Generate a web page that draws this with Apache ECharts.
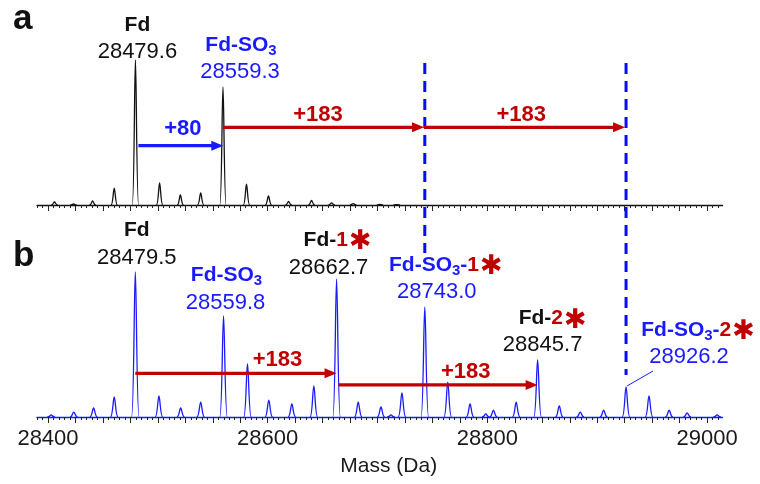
<!DOCTYPE html>
<html>
<head>
<meta charset="utf-8">
<script src="https://cdn.jsdelivr.net/npm/echarts@6/dist/echarts.min.js"></script>
<style>html,body{margin:0;padding:0;background:#fff;}</style>
</head>
<body>
<div id="spectrum" style="width:760px;height:484px;"></div>
<script>
// deconvoluted spectra, intensity relative to the Fd peak (= 100)
const massTicks = [28400, 28600, 28800, 29000];

// a: untreated
const massA = [28405.9, 28423.2, 28440.6, 28460.3, 28479.6, 28501.6, 28520.5, 28539.0, 28559.3,
  28580.7, 28600.7, 28619.0, 28639.9, 28658.2, 28677.8, 28702.2, 28717.4];
const intensityA = [2.1, 0.7, 2.8, 11.7, 100, 15.2, 6.9, 8.3, 81.4,
  14.3, 6.2, 2.4, 3.1, 1.4, 1.0, 0.4, 0.3];

// b: labelled
const massB = [28402.9, 28423.5, 28441.5, 28460.3, 28479.5, 28501.0, 28520.8, 28539.0, 28559.8,
  28581.6, 28601.0, 28622.0, 28642.0, 28662.7, 28682.4, 28703.1, 28712.2, 28722.2, 28743.0,
  28763.9, 28784.2, 28798.5, 28805.5, 28826.2, 28845.7, 28865.4, 28884.5, 28905.8, 28926.2,
  28947.1, 28965.4, 28981.8, 29009.1];
const intensityB = [1.4, 3.4, 6.2, 13.8, 100, 14.5, 6.2, 10.3, 69.7,
  36.6, 11.7, 9.0, 21.4, 95.2, 10.3, 6.9, 1.4, 16.6, 75.9,
  24.1, 9.0, 2.1, 4.8, 10.3, 39.3, 7.6, 3.4, 4.8, 20.7,
  14.5, 4.8, 2.8, 1.4];

const shiftSO3 = 80;
const shiftLabel = 183;

const FONT = '"Liberation Sans", Arial, sans-serif';
const BLUE = '#1a1aff';
const RED = '#c00000';

const majorTicks = [];
for (let m = 28400; m <= 29014; m += 25) majorTicks.push(m);
const minorTicks = [];
for (let m = 28390; m <= 29014; m += 5) minorTicks.push(m);

// each peak drawn as a narrow rounded profile around its centroid
function peakShape(halfWidth) {
  return function (params, api) {
    const b = api.coord([api.value(0), 0]);
    const t = api.coord([api.value(0), api.value(1)]);
    const w = halfWidth;
    const x = b[0];
    return {
      type: 'path',
      shape: {
        pathData: 'M' + (x - w) + ' ' + b[1] +
          ' C' + (x - 0.35 * w) + ' ' + b[1] + ' ' + (x - 0.3 * w) + ' ' + t[1] + ' ' + x + ' ' + t[1] +
          ' C' + (x + 0.3 * w) + ' ' + t[1] + ' ' + (x + 0.35 * w) + ' ' + b[1] + ' ' + (x + w) + ' ' + b[1]
      },
      style: { fill: 'none', stroke: api.visual('color'), lineWidth: 1.3 }
    };
  };
}

function axisPair(grid, lineColor, withLabels) {
  const major = {
    type: 'value', gridIndex: grid, min: 28390, max: 29014, position: 'bottom',
    splitLine: { show: false },
    axisLine: { show: true, lineStyle: { color: lineColor, width: 1.3 } },
    axisTick: { show: true, customValues: majorTicks, length: 6, lineStyle: { color: '#222', width: 1 } },
    axisLabel: withLabels
      ? { show: true, customValues: massTicks, formatter: v => String(v), fontFamily: FONT, fontSize: 22, color: '#1a1a1a', margin: 11 }
      : { show: false }
  };
  if (withLabels) {
    major.name = 'Mass (Da)';
    major.nameLocation = 'middle';
    major.nameGap = 39;
    major.nameTextStyle = { fontFamily: FONT, fontSize: 21, color: '#1a1a1a', padding: [0, 0, 0, 18] };
  }
  const minor = {
    type: 'value', gridIndex: grid, min: 28390, max: 29014, position: 'bottom',
    splitLine: { show: false },
    axisLine: { show: false },
    axisTick: { show: true, customValues: minorTicks, length: 3, lineStyle: { color: '#222', width: 1 } },
    axisLabel: { show: false }
  };
  return [major, minor];
}

const chart = echarts.init(document.getElementById('spectrum'));
chart.setOption({
  animation: false,
  grid: [
    { left: 37, right: 37.5, top: 60, height: 145 },
    { left: 37, right: 37.5, top: 272, height: 145 }
  ],
  xAxis: axisPair(0, '#111', false).concat(axisPair(1, BLUE, true)),
  yAxis: [
    { gridIndex: 0, min: 0, max: 100, show: false },
    { gridIndex: 1, min: 0, max: 100, show: false }
  ],
  series: [
    {
      type: 'custom', xAxisIndex: 0, yAxisIndex: 0, clip: false, silent: true, z: 3,
      itemStyle: { color: '#111' },
      renderItem: peakShape(3.2),
      data: massA.map((m, i) => [m, intensityA[i]])
    },
    {
      type: 'custom', xAxisIndex: 2, yAxisIndex: 1, clip: false, silent: true, z: 3,
      itemStyle: { color: BLUE },
      renderItem: peakShape(3.8),
      data: massB.map((m, i) => [m, intensityB[i]])
    }
  ]
});

// ---- annotations, anchored to the peaks through the axes ----
const px = (g, m, v) => chart.convertToPixel({ gridIndex: g }, [m, v]);

const rich = {
  k: { fontFamily: FONT, fontSize: 21, fontWeight: 'bold', fill: '#111', lineHeight: 28 },
  bl: { fontFamily: FONT, fontSize: 21, fontWeight: 'bold', fill: BLUE, lineHeight: 28 },
  sb: { fontFamily: FONT, fontSize: 15, fontWeight: 'bold', fill: BLUE, lineHeight: 15, padding: [12, 0, 0, 0] },
  r: { fontFamily: FONT, fontSize: 21, fontWeight: 'bold', fill: RED, lineHeight: 28 },
  st: { fontFamily: '"DejaVu Sans", sans-serif', fontSize: 27, fontWeight: 'bold', fill: RED, lineHeight: 27, padding: [4, 0, 0, 1] }
};

function text(x, baseline, str, opts) {
  const fs = opts.fontSize || 21;
  return {
    type: 'text', z: 10,
    style: {
      x: x, y: baseline - 0.31 * fs, text: str,
      align: opts.align || 'center', verticalAlign: 'middle',
      fontFamily: FONT, fontSize: fs, fontWeight: opts.bold ? 'bold' : 'normal',
      fill: opts.color || '#111', rich: opts.rich
    }
  };
}

// [grid, peak mass, title, dx, baseline, value colour, dx, baseline]
const peakLabels = [
  [0, 28479.6, '{k|Fd}', 2, 31.7, '#111', 2, 58.3],
  [0, 28559.3, '{bl|Fd-SO}{sb|3}', 18, 51.7, BLUE, 17, 79],
  [1, 28479.5, '{k|Fd}', 1.5, 236.7, '#111', 1.5, 265],
  [1, 28559.8, '{bl|Fd-SO}{sb|3}', 3, 281.7, BLUE, 2, 310],
  [1, 28662.7, '{k|Fd-}{r|1}{st|✱}', 1, 246.7, '#111', -8, 275],
  [1, 28743.0, '{bl|Fd-SO}{sb|3}{bl|-}{r|1}{st|✱}', 21, 271.7, BLUE, 12, 299],
  [1, 28845.7, '{k|Fd-}{r|2}{st|✱}', 15, 325, '#111', 5, 351.7],
  [1, 28926.2, '{bl|Fd-SO}{sb|3}{bl|-}{r|2}{st|✱}', 72, 336.7, BLUE, 63, 364]
];

const g = [];
g.push(text(13, 30, 'a', { fontSize: 35, bold: true, align: 'left' }));
g.push(text(13, 266.7, 'b', { fontSize: 35, bold: true, align: 'left' }));

peakLabels.forEach(function (l) {
  const x = px(l[0], l[1], 0)[0];
  g.push(text(x + l[3], l[4], l[2], { rich: rich }));
  g.push(text(x + l[6], l[7], l[1].toFixed(1), { color: l[5], fontSize: 22 }));
});

function arrow(grid, m1, m2, level, color, pad) {
  const p1 = px(grid, m1, level);
  const p2 = px(grid, m2, level);
  const y = p1[1];
  const x1 = p1[0] + pad;
  const x2 = p2[0];
  g.push({ type: 'line', z: 8, shape: { x1: x1, y1: y, x2: x2 - 8, y2: y }, style: { stroke: color, lineWidth: 3.2 } });
  g.push({ type: 'polygon', z: 8, shape: { points: [[x2, y], [x2 - 12, y - 5], [x2 - 12, y + 5]] }, style: { fill: color } });
}

arrow(0, 28479.6, 28479.6 + shiftSO3, 40.9, BLUE, 3);
arrow(0, 28559.3, 28559.3 + shiftLabel, 53.6, RED, 0);
arrow(0, 28559.3 + shiftLabel, 28559.3 + 2 * shiftLabel, 53.6, RED, 0);
arrow(1, 28479.5, 28662.7, 30.1, RED, 0);
arrow(1, 28662.7, 28845.7, 22.1, RED, 2);

g.push(text(182.8, 136, '+' + shiftSO3, { color: BLUE, bold: true, fontSize: 22 }));
g.push(text(318, 121.7, '+' + shiftLabel, { color: RED, bold: true, fontSize: 22 }));
g.push(text(521.3, 121.7, '+' + shiftLabel, { color: RED, bold: true, fontSize: 22 }));
g.push(text(277.5, 366.7, '+' + shiftLabel, { color: RED, bold: true, fontSize: 22 }));
g.push(text(465.8, 378.3, '+' + shiftLabel, { color: RED, bold: true, fontSize: 22 }));

// dashed guides at the two labelled sulfonated species
[[28743.0, 113.1], [28926.2, 29.0]].forEach(function (d) {
  const top = px(0, d[0], 97.9);
  const bottom = px(1, d[0], d[1]);
  g.push({
    type: 'line', z: 7,
    shape: { x1: top[0], y1: top[1], x2: bottom[0], y2: bottom[1] },
    style: { stroke: '#0a0aff', lineWidth: 3, lineDash: [11, 7] }
  });
});

// leader to the Fd-SO3-2* peak
const apex = px(1, 28926.2, 20.7);
g.push({
  type: 'line', z: 7,
  shape: { x1: apex[0] + 1, y1: apex[1] - 1, x2: apex[0] + 27, y2: apex[1] - 16 },
  style: { stroke: BLUE, lineWidth: 1 }
});

chart.setOption({ graphic: g });
</script>
</body>
</html>
